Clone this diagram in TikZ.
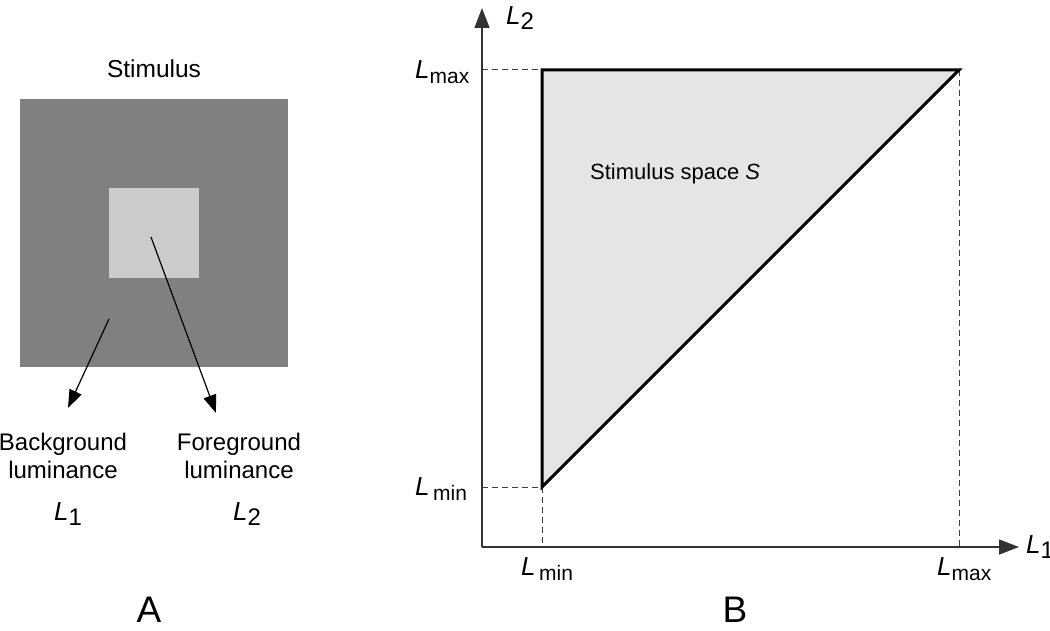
\documentclass[tikz,border=0pt]{standalone}
\usepackage{fontspec}
\setmainfont{Liberation Sans}
\usetikzlibrary{arrows.meta}
\newcommand{\Lv}{{\fontsize{26}{30}\selectfont\itshape L}}
\newcommand{\Lsb}[1]{\Lv\raisebox{-5pt}{\fontsize{21}{24}\selectfont #1}}
\begin{document}
\begin{tikzpicture}[x=1pt,y=-1pt,
  txt/.style={font=\fontsize{24}{28}\selectfont, inner sep=0pt, align=center},
  axis/.style={line width=1.4pt, draw=black!80, -{Triangle[length=20pt,width=15pt]}},
  guide/.style={line width=1pt, draw=black!75, dash pattern=on 6pt off 4pt},
  border/.style={line width=3pt, line join=miter},
  ptr/.style={line width=1.2pt, -{Triangle[length=18pt,width=13pt]}}]
\useasboundingbox (0,0) rectangle (1050,631);
% Panel A
\fill[fill=black!50] (20,99) rectangle (288,367);
\fill[fill=black!20] (109,188) rectangle (199,278);
\node[txt, font=\fontsize{24.5}{28}\selectfont] (stim) at (154,69) {Stimulus};
\coordinate (bgp) at (109,319);
\coordinate (fgp) at (151,237);
\coordinate (bgt) at (68,408);
\coordinate (fgt) at (216,413);
\draw[ptr] (bgp) -- (bgt);
\draw[ptr] (fgp) -- (fgt);
\node[txt] (bg) at (63,456) {Background\\luminance};
\node[txt] (fg) at (239,456) {Foreground\\luminance};
\node[txt] (l1a) at (68,514) {\Lv\raisebox{-5pt}{1}};
\node[txt] (l2a) at (247,514) {\Lv\raisebox{-5pt}{2}};
\node[font=\fontsize{37}{40}\selectfont, inner sep=0pt] (A) at (149,610) {A};
% Panel B
\coordinate (O) at (482,547);
\coordinate (ytip) at (482,8);
\coordinate (xtip) at (1019,547);
\coordinate (p1) at (542,70);
\coordinate (p2) at (959,70);
\coordinate (p3) at (542,487);
\coordinate (ymax) at (482,70);
\coordinate (ymin) at (482,487);
\coordinate (xmin) at (542,547);
\coordinate (xmax) at (959,547);
\fill[black!10] (p1) -- (p2) -- (p3) -- cycle;
\draw[guide] (ymax) -- (p1);
\draw[guide] (ymin) -- (p3);
\draw[guide] (p3) -- (xmin);
\draw[guide] (p2) -- (xmax);
\draw[axis] (O) -- (ytip);
\draw[axis] (O) -- (xtip);
\draw[border] (p3) -- (p1) -- (p2) -- cycle;
\node[txt, font=\fontsize{22}{26}\selectfont, anchor=west] (ss) at (590,174) {Stimulus space \textit{S}};
\node[txt, anchor=west] (lmaxl) at (415,72) {\Lsb{max}};
\node[txt, anchor=west] (lminl) at (415,489) {\Lsb{\,min}};
\node[txt, anchor=west] (lminb) at (521,569) {\Lsb{\,min}};
\node[txt, anchor=west] (lmaxb) at (937,569) {\Lsb{max}};
\node[txt, anchor=west] (l2b) at (506,18) {\Lv\raisebox{-5pt}{2}};
\node[txt, anchor=west] (l1b) at (1026,547) {\Lv\raisebox{-5pt}{1}};
\node[font=\fontsize{37}{40}\selectfont, inner sep=0pt] (B) at (735,610) {B};
\end{tikzpicture}
\end{document}
